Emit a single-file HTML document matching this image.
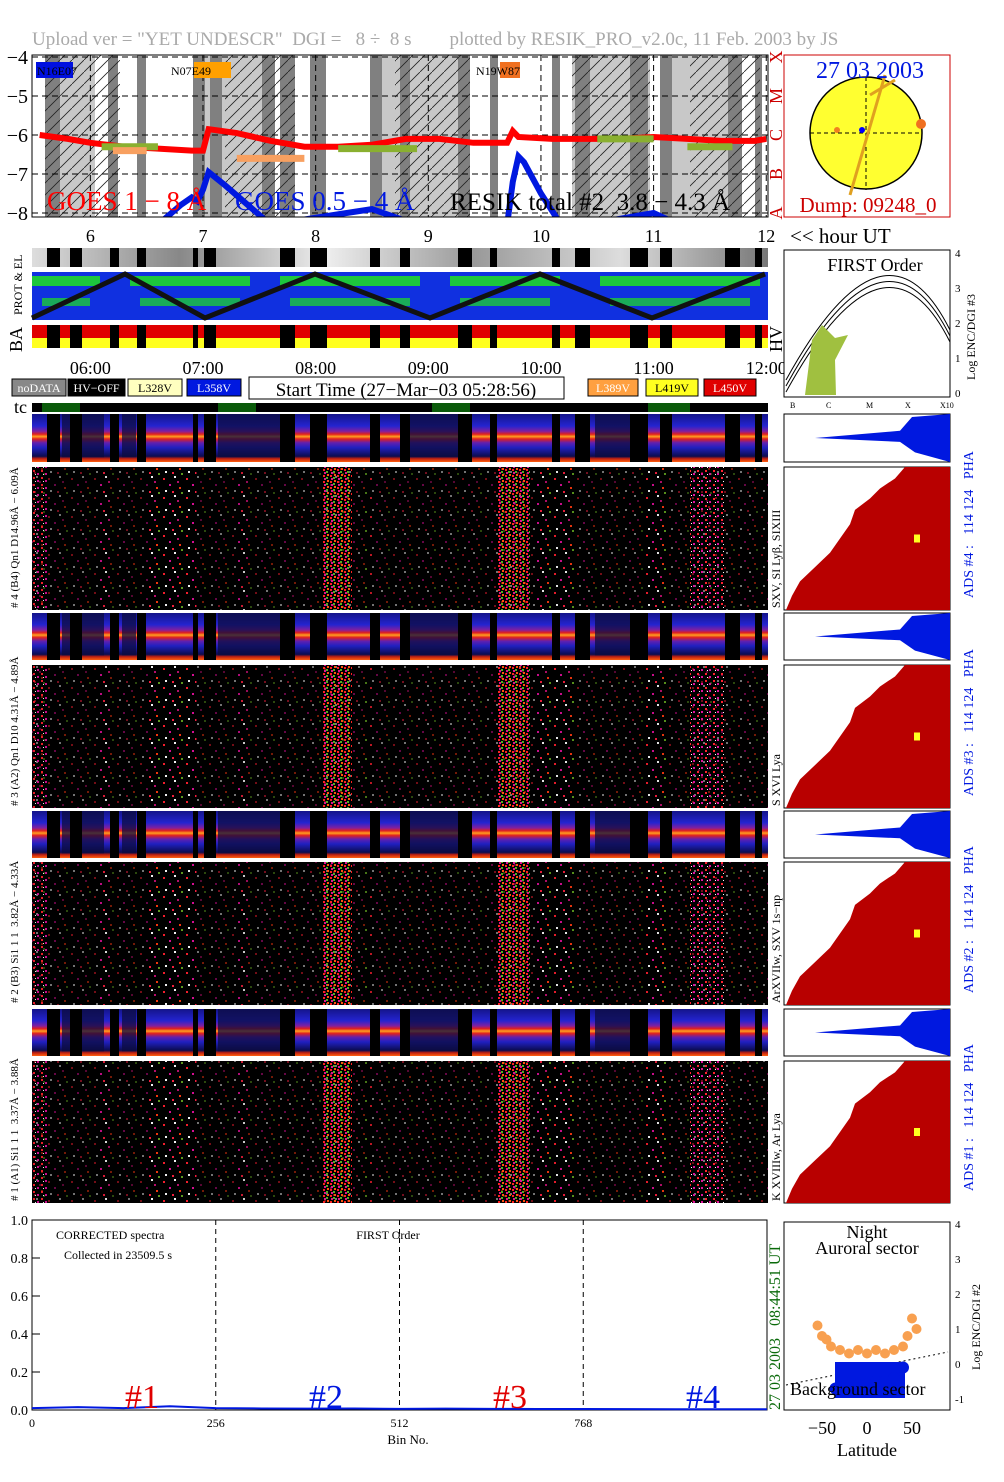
<!DOCTYPE html>
<html><head><meta charset="utf-8">
<style>
html,body{margin:0;padding:0;background:#fff;}
body{width:1004px;height:1477px;overflow:hidden;font-family:"Liberation Serif",serif;}
svg text{font-family:"Liberation Serif",serif;white-space:pre;}
</style></head>
<body>
<svg id="main" width="1004" height="1477" viewBox="0 0 1004 1477" xmlns="http://www.w3.org/2000/svg">
<defs>
<pattern id="hatch" width="12" height="12" patternUnits="userSpaceOnUse"><path d="M0,12 L12,0" stroke="#222" stroke-width="0.8"/></pattern>
<pattern id="speck" width="23" height="19" patternUnits="userSpaceOnUse">
<rect x="2" y="3" width="2" height="2" fill="#ff2030"/><rect x="13" y="1" width="2" height="2" fill="#fff"/>
<rect x="8" y="9" width="2" height="2" fill="#e0109a"/><rect x="18" y="12" width="2" height="2" fill="#ff3a10"/>
<rect x="4" y="15" width="2" height="2" fill="#fff"/><rect x="16" y="6" width="2" height="2" fill="#c01070"/>
<rect x="11" y="16" width="2" height="2" fill="#ff2040"/><rect x="20" y="17" width="2" height="2" fill="#60a020"/>
</pattern>
<pattern id="speckd" width="8" height="7" patternUnits="userSpaceOnUse">
<rect x="1" y="1" width="2" height="2" fill="#ff2030"/><rect x="5" y="4" width="2" height="2" fill="#e0109a"/>
<rect x="3" y="5" width="1" height="1" fill="#fff"/>
</pattern>
<pattern id="speckg" width="7" height="6" patternUnits="userSpaceOnUse">
<rect x="1" y="1" width="2" height="2" fill="#ff2020"/><rect x="4" y="3" width="2" height="2" fill="#50b020"/>
<rect x="2" y="4" width="2" height="2" fill="#e01090"/><rect x="5" y="0" width="2" height="2" fill="#ff5010"/>
</pattern>
<linearGradient id="phaGrad" x1="0" y1="0" x2="0" y2="1">
<stop offset="0" stop-color="#14148a"/><stop offset="0.25" stop-color="#2424d0"/>
<stop offset="0.36" stop-color="#8020a0"/><stop offset="0.42" stop-color="#e02020"/><stop offset="0.47" stop-color="#ffa020"/>
<stop offset="0.52" stop-color="#e02020"/><stop offset="0.6" stop-color="#6020b0"/><stop offset="0.7" stop-color="#2020c0"/>
<stop offset="0.88" stop-color="#0c0c50"/><stop offset="0.93" stop-color="#c02010"/><stop offset="1" stop-color="#ff6010"/>
</linearGradient>
<linearGradient id="grayBar" x1="0" y1="0" x2="1" y2="0">
<stop offset="0" stop-color="#ddd"/><stop offset="0.2" stop-color="#888"/><stop offset="0.4" stop-color="#eee"/>
<stop offset="0.6" stop-color="#999"/><stop offset="0.8" stop-color="#ddd"/><stop offset="1" stop-color="#777"/>
</linearGradient>
</defs>
<text x="32" y="45" font-size="19" fill="#aaa" xml:space="preserve">Upload ver = "YET UNDESCR"  DGI =   8 ÷  8 s        plotted by RESIK_PRO_v2.0c, 11 Feb. 2003 by JS</text>
<g id="layer"></g>
</svg>
<script>
// ---- data ----
const hourTicks=[6,7,8,9,10,11,12];
const goesYTicks=[-4,-5,-6,-7,-8];
const goesHours=[5.55,5.8,6.0,6.3,6.6,6.9,7.0,7.05,7.3,7.6,7.9,8.2,8.5,8.8,9.1,9.4,9.7,9.75,9.8,10.1,10.4,10.7,11.0,11.3,11.6,11.9,12.0];
const goesLong=[-6.0,-6.1,-6.2,-6.3,-6.35,-6.4,-6.4,-5.85,-5.95,-6.15,-6.3,-6.3,-6.25,-6.1,-6.1,-6.2,-6.2,-5.9,-6.05,-6.1,-6.1,-6.1,-6.05,-6.1,-6.15,-6.15,-6.1];
const goesShortH=[6.6,6.8,6.9,6.95,7.0,7.05,7.2,7.4,7.6,8.5,8.7,8.9,9.7,9.75,9.8,9.85,10.0,10.2,11.0,11.3,11.6];
const goesShort=[-8.3,-7.8,-7.6,-7.7,-7.4,-6.95,-7.3,-7.8,-8.3,-7.9,-8.1,-8.3,-8.3,-7.2,-6.55,-6.7,-7.5,-8.4,-8.0,-8.4,-8.4];
const specBins=[0,64,128,192,256,320,384,448,512,576,640,704,768,896,1024];
const specVals=[0.01,0.015,0.01,0.02,0.01,0.008,0.007,0.008,0.006,0.007,0.006,0.005,0.005,0.004,0.004];
const specYTicks=[0.0,0.2,0.4,0.6,0.8,1.0];
const specXTicks=[0,256,512,768];
const latOrange=[-55,-50,-45,-40,-30,-20,-10,0,10,20,30,40,45,50,55];
const encOrange=[1.3,1.0,0.9,0.7,0.6,0.5,0.6,0.5,0.6,0.5,0.6,0.7,1.0,1.5,1.2];
const latBlue=[-35,-30,-20,-10,0,10,20,30,40];
const encBlue=[-0.5,-0.6,-0.5,-0.4,-0.4,-0.3,-0.3,-0.2,0.1];

const svg=document.getElementById('layer');
const NS='http://www.w3.org/2000/svg';
function el(tag,attrs,parent){const e=document.createElementNS(NS,tag);for(const k in attrs)e.setAttribute(k,attrs[k]);(parent||svg).appendChild(e);return e;}
function txt(x,y,s,attrs,parent){const e=el('text',Object.assign({x:x,y:y},attrs||{}),parent);e.textContent=s;return e;}
const X0=32,X1=768;
function hx(h){return X0+(h-5.482)*112.65;}

// ---- GOES panel ----
const gTop=55,gBot=217;
function gy(v){return gTop+2+((-4)-v)*39;}
const goes=el('g',{});


el('rect',{x:X0,y:gTop,width:X1-X0,height:gBot-gTop,fill:'#fff'},goes);
const lightBands=[[45,95],[195,275],[380,470],[572,650],[670,740]];
lightBands.forEach(b=>{el('rect',{x:b[0],y:gTop,width:b[1]-b[0],height:gBot-gTop,fill:'#c8c8c8'},goes);});
const darkBands=[[45,60],[108,118],[137,146],[193,205],[210,222],[262,275],[280,295],[310,326],[370,382],[400,410],[458,470],[490,498],[552,560],[575,590],[630,648],[660,672],[728,742],[755,762]];
darkBands.forEach(b=>{el('rect',{x:b[0],y:gTop,width:b[1]-b[0],height:gBot-gTop,fill:'#808080'},goes);});
[[45,120],[225,295],[395,470],[572,650],[690,760]].forEach(b=>{el('rect',{x:b[0],y:gTop,width:b[1]-b[0],height:gBot-gTop,fill:'url(#hatch)'},goes);});
goesYTicks.forEach(v=>{const y=gy(v);
 el('line',{x1:X0,x2:X1,y1:y,y2:y,stroke:'#000','stroke-dasharray':'6,4','stroke-width':1},goes);
 txt(28,y+7,'−'+(-v),{'font-size':20,'text-anchor':'end'},goes);});
hourTicks.forEach(h=>{el('line',{x1:hx(h),x2:hx(h),y1:gTop,y2:gBot,stroke:'#000','stroke-dasharray':'6,4'},goes);});
let d='';goesHours.forEach((h,i)=>{d+=(i?'L':'M')+hx(h)+','+gy(goesLong[i]);});
const lg=el('path',{d:d,stroke:'#f00','stroke-width':6,fill:'none'},goes);

const cp=el('clipPath',{id:'gclip'},goes);
el('rect',{x:X0,y:gTop,width:X1-X0,height:gBot-gTop},cp);
d='';goesShortH.forEach((h,i)=>{d+=(i?'L':'M')+hx(h)+','+gy(goesShort[i]);});
const sg=el('path',{d:d,stroke:'#0018e0','stroke-width':6,fill:'none','clip-path':'url(#gclip)'},goes);

[[6.1,6.6,-6.3],[8.2,8.9,-6.35],[10.5,11.0,-6.1],[11.3,11.7,-6.3]].forEach(s=>{el('line',{x1:hx(s[0]),x2:hx(s[1]),y1:gy(s[2]),y2:gy(s[2]),stroke:'#8ab030','stroke-width':7},goes);});
[[7.3,7.9,-6.6],[6.2,6.5,-6.4]].forEach(s=>{el('line',{x1:hx(s[0]),x2:hx(s[1]),y1:gy(s[2]),y2:gy(s[2]),stroke:'#f8a060','stroke-width':7},goes);});
el('rect',{x:X0,y:gTop,width:X1-X0,height:gBot-gTop,fill:'none',stroke:'#000'},goes);
el('rect',{x:36,y:62,width:37,height:16,fill:'#0010e0'},goes);txt(37,75,'N16E07',{'font-size':12},goes);
el('rect',{x:194,y:62,width:37,height:16,fill:'#ffa000'},goes);txt(171,75,'N07E49',{'font-size':12},goes);
el('rect',{x:500,y:62,width:20,height:16,fill:'#f07020'},goes);txt(476,75,'N19W87',{'font-size':12},goes);
txt(47,210,'GOES 1 − 8 Å',{'font-size':27,fill:'#f00'},goes);
txt(235,210,'GOES 0.5 − 4 Å',{'font-size':27,fill:'#0018e0'},goes);
txt(450,210,'RESIK total #2  3.8 − 4.3 Å',{'font-size':25,fill:'#000'},goes);
[['X',57],['M',96],['C',135],['B',174],['A',213]].forEach(c=>{txt(782,c[1],c[0],{'font-size':18,fill:'#c00',transform:`rotate(-90 782 ${c[1]})`,'text-anchor':'middle'},goes);});

// ---- sun panel ----
const sun=el('g',{});
el('rect',{x:784,y:55,width:166,height:162,fill:'#fff',stroke:'#c00'},sun);
el('circle',{cx:866,cy:133,r:56,fill:'#ffff30',stroke:'#000','stroke-width':1.5},sun);
el('line',{x1:810,x2:922,y1:133,y2:133,stroke:'#000','stroke-dasharray':'4,3'},sun);
el('line',{x1:866,x2:866,y1:77,y2:190,stroke:'#000','stroke-dasharray':'4,3'},sun);
el('line',{x1:850,x2:885,y1:195,y2:75,stroke:'#e0a020','stroke-width':3},sun);
el('line',{x1:870,x2:895,y1:95,y2:80,stroke:'#e0a020','stroke-width':3},sun);
el('circle',{cx:862,cy:130,r:3,fill:'#00f'},sun);el('circle',{cx:837,cy:130,r:3,fill:'#f08020'},sun);
el('circle',{cx:921,cy:124,r:5,fill:'#f07020'},sun);
txt(870,78,'27 03 2003',{'font-size':24,fill:'#0018e0','text-anchor':'middle'},sun);
txt(868,212,'Dump: 09248_0',{'font-size':21,fill:'#c00','text-anchor':'middle'},sun);

// ---- hour labels ----
hourTicks.forEach(h=>{txt(hx(h),242,String(h),{'font-size':18,'text-anchor':'middle'});});
txt(790,243,'<< hour UT',{'font-size':21});
const gb=el('rect',{x:X0,y:248,width:X1-X0,height:19,fill:'url(#grayBar)'});
const gaps=[[47,60],[70,82],[110,119],[137,146],[193,198],[204,216],[280,295],[310,327],[370,380],[400,410],[458,472],[490,497],[552,560],[575,590],[630,648],[660,672],[725,740],[755,762]];
gaps.forEach(g=>el('rect',{x:g[0],y:248,width:g[1]-g[0],height:19,fill:'#000'}));
// PROT & EL
const prot=el('g',{});
el('rect',{x:X0,y:272,width:X1-X0,height:48,fill:'#1030e0'},prot);
[[32,100,285],[130,250,290],[280,420,300],[450,560,292],[600,760,288]].forEach(b=>{el('rect',{x:b[0],y:276,width:b[1]-b[0],height:10,fill:'#20e020',opacity:0.85},prot);el('rect',{x:b[0]+10,y:298,width:b[1]-b[0]-20,height:8,fill:'#20e020',opacity:0.7},prot);});
el('polyline',{points:'32,318 125,274 205,318 315,274 430,318 540,274 652,318 765,274',fill:'none',stroke:'#111','stroke-width':5},prot);
txt(22,315,'PROT & EL',{'font-size':12,transform:'rotate(-90 22 315)'});
// BA
const ba=el('g',{});
el('rect',{x:X0,y:325,width:X1-X0,height:13,fill:'#e00000'},ba);el('rect',{x:X0,y:338,width:X1-X0,height:10,fill:'#ffff20'},ba);
gaps.forEach(g=>el('rect',{x:g[0],y:325,width:g[1]-g[0],height:23,fill:'#000'},ba));
txt(22,352,'BA',{'font-size':18,transform:'rotate(-90 22 352)'});
txt(782,352,'HV',{'font-size':18,transform:'rotate(-90 782 352)'});
['06:00','07:00','08:00','09:00','10:00','11:00','12:00'].forEach((s,i)=>{txt(hx(hourTicks[i]),374,s,{'font-size':18,'text-anchor':'middle'});});
function leg(x,w,fill,tc,s,nm){const r=el('rect',{x:x,y:379,width:w,height:17,fill:fill,stroke:'#000'});txt(x+w/2,392,s,{'font-size':12,fill:tc,'text-anchor':'middle'});}
leg(12,54,'#888','#fff','noDATA','legend-nodata');leg(68,57,'#000','#fff','HV−OFF','legend-hv-off');
leg(128,54,'#ffffc0','#000','L328V','legend-l328v');leg(187,54,'#0018e0','#fff','L358V','legend-l358v');
leg(588,50,'#ffa040','#fff','L389V','legend-l389v');leg(646,52,'#ffff20','#000','L419V','legend-l419v');leg(704,52,'#e00000','#fff','L450V','legend-l450v');
el('rect',{x:249,y:377,width:315,height:22,fill:'#fff',stroke:'#000'});
txt(406,396,'Start Time (27−Mar−03 05:28:56)',{'font-size':19,'text-anchor':'middle'});
txt(14,413,'tc',{'font-size':18});
el('rect',{x:X0,y:403,width:X1-X0,height:9,fill:'#000'});
[[42,80],[218,256],[432,470],[648,690]].forEach(b=>el('rect',{x:b[0],y:403,width:b[1]-b[0],height:9,fill:'#0a5a0a'}));

// ---- spectrogram panels ----
const panels=[
 {pha:[414,462],ads:[467,610],n:4,lbl:'# 4 (B4) Qn1 D14.96Å − 6.09Å',rl:'SXV, SI Lyβ, SIXIII'},
 {pha:[613,660],ads:[665,808],n:3,lbl:'# 3 (A2) Qn1 D10 4.31Å − 4.89Å',rl:'S XVI Lya'},
 {pha:[811,858],ads:[862,1005],n:2,lbl:'# 2 (B3) Si1 1 1  3.82Å − 4.33Å',rl:'ArXVIIw, SXV 1s−np'},
 {pha:[1009,1056],ads:[1061,1203],n:1,lbl:'# 1 (A1) Si1 1 1  3.37Å − 3.88Å',rl:'K XVIIIw, Ar Lya'}];
const actBands=[[32,47,0.9,'d'],[100,110,0.7,'s'],[148,196,0.9,'s'],[238,248,0.6,'s'],[322,352,1,'g'],[365,372,0.5,'s'],[498,530,1,'g'],[535,575,0.8,'s'],[645,668,0.8,'s'],[690,725,1,'d']];
panels.forEach(p=>{
 const g=el('g',{});
 const ph0=p.pha[0],phh=p.pha[1]-p.pha[0];
 el('rect',{x:X0,y:ph0,width:X1-X0,height:phh,fill:'url(#phaGrad)'},g);
 [[62,104],[122,136],[218,280],[410,458],[595,630]].forEach(b=>el('rect',{x:b[0],y:ph0,width:b[1]-b[0],height:phh*0.9,fill:'#0c0c40',opacity:0.75},g));
 gaps.forEach(q=>el('rect',{x:q[0],y:ph0,width:q[1]-q[0],height:phh,fill:'#000'},g));
 el('rect',{x:X0,y:p.ads[0],width:X1-X0,height:p.ads[1]-p.ads[0],fill:'#000'},g);
 el('rect',{x:X0,y:p.ads[0],width:X1-X0,height:p.ads[1]-p.ads[0],fill:'url(#speck)',opacity:0.45},g);
 actBands.forEach(b=>el('rect',{x:b[0],y:p.ads[0],width:b[1]-b[0],height:p.ads[1]-p.ads[0],fill:b[3]==='g'?'url(#speckg)':(b[3]==='d'?'url(#speckd)':'url(#speck)'),opacity:b[2]},g));
 txt(18,p.ads[1]-2,p.lbl,{'font-size':11,transform:`rotate(-90 18 ${p.ads[1]-2})`});
 el('rect',{x:784,y:ph0,width:166,height:phh,fill:'#fff',stroke:'#000'},g);
 el('polygon',{points:`950,${ph0} 912,${ph0+3} 900,${ph0+phh*0.35} 815,${ph0+phh*0.5} 900,${ph0+phh*0.58} 915,${ph0+phh*0.8} 950,${ph0+phh}`,fill:'#0018e0'},g);
 const ah=p.ads[1]-p.ads[0],ay=p.ads[0];
 el('rect',{x:784,y:ay,width:166,height:ah,fill:'#fff',stroke:'#000'},g);
 el('polygon',{points:`950,${ay} 905,${ay} 895,${ay+ah*0.08} 880,${ay+ah*0.15} 870,${ay+ah*0.22} 855,${ay+ah*0.3} 850,${ay+ah*0.4} 840,${ay+ah*0.5} 830,${ay+ah*0.6} 815,${ay+ah*0.7} 800,${ay+ah*0.8} 792,${ay+ah*0.9} 786,${ay+ah} 950,${ay+ah}`,fill:'#b80000'},g);
 el('rect',{x:914,y:ay+ah*0.5-4,width:6,height:8,fill:'#ffff20'},g);
 txt(780,p.ads[1]-2,p.rl,{'font-size':12,transform:`rotate(-90 780 ${p.ads[1]-2})`});
 const rx=973,ry=p.ads[1]-12;
 txt(rx,ry,'ADS #'+p.n+' :   114 124   PHA',{'font-size':14,fill:'#0018e0',transform:`rotate(-90 ${rx} ${ry})`});
});

// ---- FIRST order panel ----
const fo=el('g',{});
el('rect',{x:784,y:250,width:166,height:147,fill:'#fff',stroke:'#000'},fo);
txt(875,271,'FIRST Order',{'font-size':18,'text-anchor':'middle'},fo);
[0,6,12].forEach(o=>el('path',{d:`M786,${380+o} Q885,${200+o} 950,${330+o}`,fill:'none',stroke:'#000'},fo));
el('polygon',{points:'805,395 812,340 822,325 835,338 848,335 835,360 836,395',fill:'#a0c040'},fo);
txt(790,408,'B',{'font-size':8});txt(826,408,'C',{'font-size':8});txt(866,408,'M',{'font-size':8});txt(905,408,'X',{'font-size':8});txt(940,408,'X10',{'font-size':8});
[[4,253],[3,288],[2,323],[1,358],[0,393]].forEach(t=>txt(955,t[1]+4,String(t[0]),{'font-size':11}));
txt(975,380,'Log ENC/DGI #3',{'font-size':12,transform:'rotate(-90 975 380)'});

// ---- bottom spectrum chart ----
const sX0=32,sX1=767,sY0=1410,sY1=1220;
const sx=b=>sX0+b/1024*(sX1-sX0), sy=v=>sY0-v*(sY0-sY1);
const sp=el('g',{});
el('rect',{x:sX0,y:sY1,width:sX1-sX0,height:sY0-sY1,fill:'#fff',stroke:'#000'},sp);
specYTicks.forEach(v=>{el('line',{x1:sX0,x2:sX0+8,y1:sy(v),y2:sy(v),stroke:'#000'},sp);txt(28,sy(v)+5,v.toFixed(1),{'font-size':14,'text-anchor':'end'},sp);});
specXTicks.forEach(b=>{txt(sx(b),1427,String(b),{'font-size':12,'text-anchor':'middle'},sp);if(b>0)el('line',{x1:sx(b),x2:sx(b),y1:sY1,y2:sY0,stroke:'#000','stroke-dasharray':'5,4'},sp);});
d='';specBins.forEach((b,i)=>{d+=(i?'L':'M')+sx(b)+','+sy(specVals[i]);});
el('path',{d:d,stroke:'#0018e0','stroke-width':2,fill:'none'},sp);
txt(56,1239,'CORRECTED spectra',{'font-size':12},sp);txt(64,1259,'Collected in 23509.5 s',{'font-size':12},sp);
txt(388,1239,'FIRST Order',{'font-size':12,'text-anchor':'middle'},sp);
txt(142,1408,'#1',{'font-size':34,fill:'#e00000','text-anchor':'middle'},sp);txt(326,1408,'#2',{'font-size':34,fill:'#0018e0','text-anchor':'middle'},sp);
txt(510,1408,'#3',{'font-size':34,fill:'#e00000','text-anchor':'middle'},sp);txt(703,1408,'#4',{'font-size':34,fill:'#0018e0','text-anchor':'middle'},sp);
txt(408,1444,'Bin No.',{'font-size':13,'text-anchor':'middle'},sp);
txt(780,1410,'27 03 2003   08:44:51 UT',{'font-size':16,fill:'#0a6a0a',transform:'rotate(-90 780 1410)'});

// ---- aurora scatter ----
const aX=l=>867+l*0.9, aY=e=>1371-e*35;
const au=el('g',{});
el('rect',{x:784,y:1222,width:166,height:188,fill:'#fff',stroke:'#000'},au);
txt(867,1238,'Night',{'font-size':18,'text-anchor':'middle'},au);txt(867,1254,'Auroral sector',{'font-size':18,'text-anchor':'middle'},au);
el('line',{x1:786,x2:948,y1:1385,y2:1352,stroke:'#000','stroke-dasharray':'2,3'},au);
latOrange.forEach((l,i)=>el('circle',{cx:aX(l),cy:aY(encOrange[i]),r:5,fill:'#f8a050'},au));
el('rect',{x:835,y:1362,width:70,height:36,fill:'#0018e0'},au);
latBlue.forEach((l,i)=>el('circle',{cx:aX(l),cy:aY(encBlue[i]),r:6,fill:'#0018e0'},au));
txt(790,1395,'Background sector',{'font-size':18},au);
[[4,1222],[3,1257],[2,1292],[1,1327],[0,1362],[-1,1397]].forEach(t=>txt(955,t[1]+6,String(t[0]),{'font-size':11}));
txt(980,1370,'Log ENC/DGI #2',{'font-size':12,transform:'rotate(-90 980 1370)'});
[-50,0,50].forEach(t=>txt(aX(t),1434,(t<0?'−':'')+Math.abs(t),{'font-size':18,'text-anchor':'middle'}));
txt(867,1456,'Latitude',{'font-size':18,'text-anchor':'middle'});
</script>
</body></html>
